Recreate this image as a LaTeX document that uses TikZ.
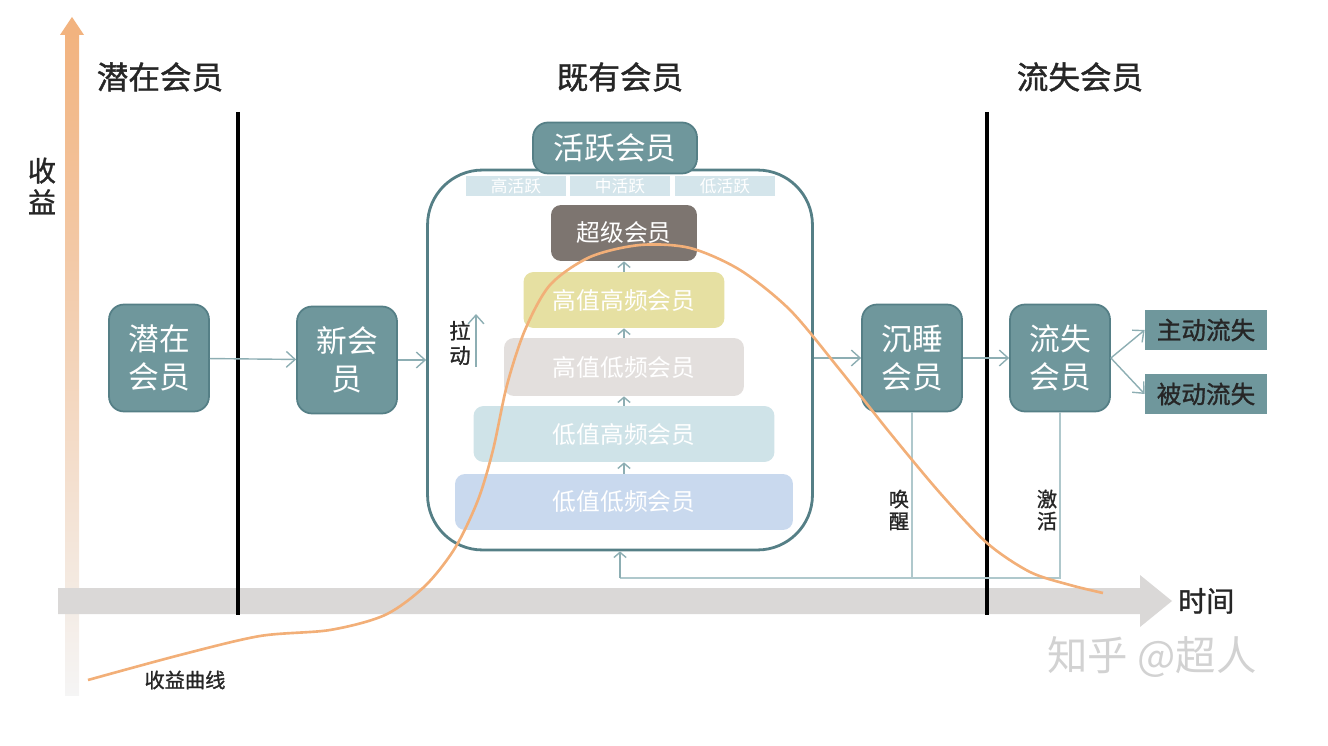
\documentclass[tikz,border=0pt]{standalone}
\usepackage{fontspec}
\setmainfont{Noto Sans CJK SC}
\newfontfamily\cjkheavy[FakeBold=1.2]{Noto Sans CJK SC}
\usetikzlibrary{arrows.meta}
\definecolor{tealbox}{HTML}{6F979C}
\definecolor{tealedge}{HTML}{557F86}
\definecolor{tealline}{HTML}{8DAEB3}
\definecolor{backline}{HTML}{AFC8CC}
\definecolor{axisorange}{HTML}{F2B37F}
\definecolor{axisgray}{HTML}{DAD8D7}
\definecolor{curveorange}{HTML}{F2AF78}
\definecolor{subblue}{HTML}{D4E5EB}
\definecolor{tiersuper}{HTML}{7D7570}
\definecolor{tierhh}{HTML}{E6E0A2}
\definecolor{tierhl}{HTML}{E3DFDD}
\definecolor{tierlh}{HTML}{CFE3E8}
\definecolor{tierll}{HTML}{C9D9EE}
\tikzset{
    memberbox/.style={draw=tealedge, line width=1pt, fill=tealbox, rounded corners=0.3cm,
        text=white, align=center, minimum width=2cm, minimum height=2.14cm,
        font=\fontsize{17.5}{21.5}\selectfont},
    tierbox/.style={rounded corners=0.2cm, text=white, minimum height=1.12cm,
        font=\fontsize{13.5}{16}\selectfont},
    subbox/.style={fill=subblue, text=white, minimum width=2cm, minimum height=0.4cm,
        inner sep=0pt, font=\fontsize{9.5}{10}\selectfont},
    exitbox/.style={fill=tealbox, text=black!85, minimum width=2.44cm, minimum height=0.8cm,
        font=\cjkheavy\fontsize{14}{16}\selectfont},
    title/.style={font=\cjkheavy\fontsize{18}{21}\selectfont, text=black!85},
    note/.style={font=\cjkheavy\fontsize{11.5}{12.5}\selectfont, align=center, text=black!85, inner sep=1pt},
    link/.style={draw=tealline, line width=0.8pt, -{Straight Barb[length=5pt,width=9pt]}},
    backlink/.style={draw=backline, line width=0.8pt},
}
\begin{document}
\begin{tikzpicture}[x=0.02cm, y=-0.02cm]
    \useasboundingbox (0,0) rectangle (1328,746);
    % axes
    \shade[top color=axisorange, bottom color=gray!8] (65,34) rectangle (79,695);
    \fill[axisorange] (60,35) -- (72,17) -- (84,35) -- cycle;
    \fill[axisgray] (58,588) -- (1140,588) -- (1140,575) -- (1172,601) -- (1140,627)
        -- (1140,614) -- (58,614) -- cycle;
    \node[font=\cjkheavy\fontsize{16}{18}\selectfont, align=center, text=black!85] (yaxis) at (42,186) {收\\益};
    \node[font=\cjkheavy\fontsize{16}{18}\selectfont, text=black!85, anchor=west] (xaxis) at (1172,601) {时间};
    % stage dividers
    \draw[line width=2.4pt] (238,112) -- (238,615);
    \draw[line width=2.4pt] (987,112) -- (987,615);
    \node[title] (tpot) at (160,77) {潜在会员};
    \node[title] (tnow) at (620,77) {既有会员};
    \node[title] (tlost) at (1080,77) {流失会员};
    % members
    \node[memberbox] (pot) at (159,358) {潜在\\会员};
    \node[memberbox] (new) at (347,360) {新会\\员};
    \node[draw=tealedge, line width=1.6pt, rounded corners=1.1cm, minimum width=7.7cm,
        minimum height=7.6cm] (pool) at (620,360) {};
    \node[memberbox, minimum width=3.28cm, minimum height=1.02cm] (head) at (615,148) {活跃会员};
    \node[subbox] (hi) at (516,186) {高活跃};
    \node[subbox] (mid) at (620,186) {中活跃};
    \node[subbox] (lo) at (725,186) {低活跃};
    \node[tierbox, fill=tiersuper, minimum width=2.92cm] (super) at (624,233) {超级会员};
    \node[tierbox, fill=tierhh, minimum width=4.02cm] (hh) at (624,300) {高值高频会员};
    \node[tierbox, fill=tierhl, minimum width=4.8cm, minimum height=1.16cm] (hl) at (624,367) {高值低频会员};
    \node[tierbox, fill=tierlh, minimum width=6.02cm] (lh) at (624,434) {低值高频会员};
    \node[tierbox, fill=tierll, minimum width=6.76cm] (ll) at (624,502) {低值低频会员};
    \foreach \a/\b in {ll/lh, lh/hl, hl/hh, hh/super} {
        \draw[link, -{Straight Barb[length=3pt,width=7pt]}] (\a.north) -- (\b.south);
    }
    \node[note, font=\cjkheavy\fontsize{12}{14}\selectfont] (pull) at (460,343) {拉\\动};
    \coordinate (pulltop) at (476,314);
    \draw[link] (pulltop |- pull.south) -- (pulltop);
    \node[memberbox] (sleep) at (912,358) {沉睡\\会员};
    \node[memberbox] (lost) at (1060,358) {流失\\会员};
    \node[exitbox] (quit) at (1206,330) {主动流失};
    \node[exitbox] (drop) at (1206,394) {被动流失};
    % flow
    \draw[link] (pot) -- (new);
    \draw[link] (new.east) -- (new.east -| pool.west);
    \draw[link] (pool.east |- sleep.west) -- (sleep.west);
    \draw[link] (sleep) -- (lost);
    \draw[link] (lost.east) -- (quit.west);
    \draw[link] (lost.east) -- (drop.west);
    % way back
    \coordinate (back) at (620,578);
    \draw[backlink] (sleep.south) -- (sleep.south |- back);
    \draw[backlink] (lost.south) |- (back);
    \draw[link, -{Straight Barb[length=3pt,width=7pt]}] (back) -- (pool.south);
    \node[note] (wake) at (899,510) {唤\\醒};
    \node[note] (react) at (1047,510) {激\\活};
    % income curve
    \draw[curveorange, line width=1.5pt] plot[smooth] coordinates {(88,680) (180,655)
        (260,636) (330,630) (385,615) (425,586) (455,548) (478,500) (493,450) (507,385)
        (525,330) (550,285) (590,257) (640,245) (690,248) (740,270) (790,310) (840,370)
        (890,433) (940,493) (987,543) (1030,572) (1070,585) (1103,593)};
    \node[note, font=\cjkheavy\fontsize{11.5}{13}\selectfont] (income) at (185,680) {收益曲线};
    \node[font=\fontsize{23}{26}\selectfont, text=gray!35] (mark) at (1152,657) {知乎 @超人};
\end{tikzpicture}
\end{document}
